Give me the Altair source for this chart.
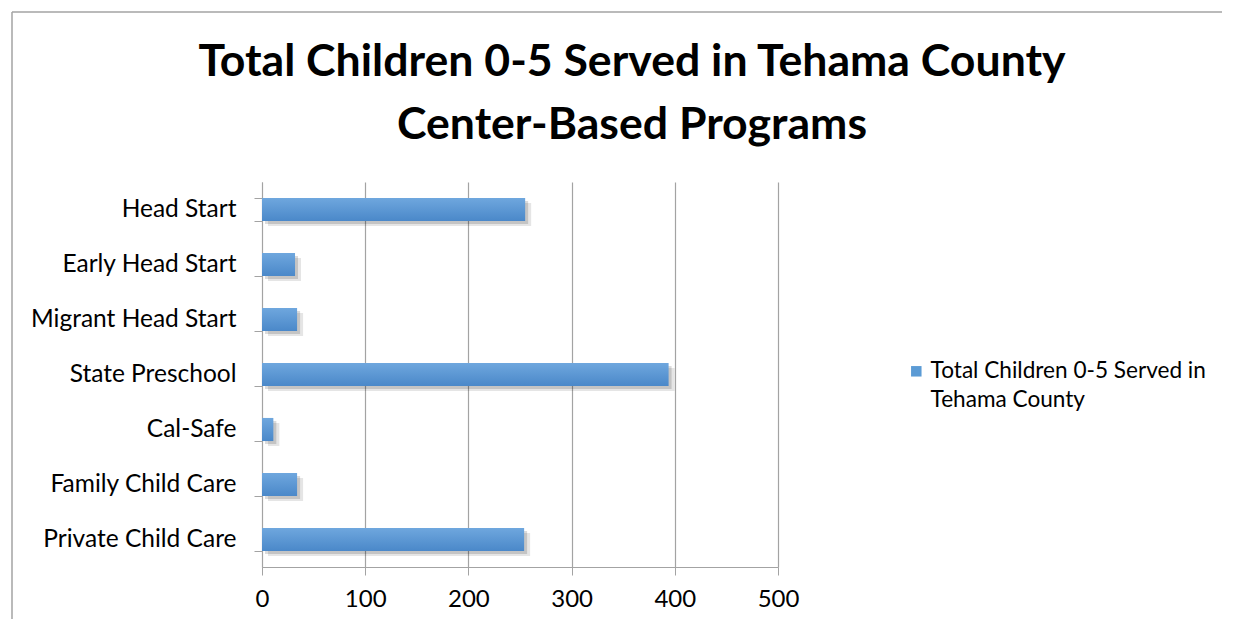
import altair as alt
import pandas as pd

programs = ["Head Start", "Early Head Start", "Migrant Head Start", "State Preschool",
            "Cal-Safe", "Family Child Care", "Private Child Care"]
children = [255, 32, 34, 394, 11, 34, 254]
series_name = "Total Children 0-5 Served in Tehama County"
x_ticks = [0, 100, 200, 300, 400, 500]
title_lines = ["Total Children 0-5 Served in Tehama County", "Center-Based Programs"]

df = pd.DataFrame({"program": programs, "children": children, "series": [series_name] * len(programs)})

FONT = "Lato"
GRAY = "#a3a3a3"

y_enc = alt.Y("program:N", sort=programs,
              scale=alt.Scale(paddingInner=0.58, paddingOuter=0.29),
              axis=alt.Axis(title=None, labelFont=FONT, labelFontSize=24.5, labelColor="black",
                            domainColor=GRAY, tickColor=GRAY, tickSize=8, tickBand="extent",
                            labelPadding=18, labelLimit=400, grid=False))
x_enc = alt.X("children:Q", scale=alt.Scale(domain=[0, 500], nice=False),
              axis=alt.Axis(title=None, values=x_ticks, labelFont=FONT, labelFontSize=24,
                            labelColor="black", domainColor=GRAY, tickColor=GRAY, tickSize=8,
                            labelPadding=12, grid=True, gridColor=GRAY, gridWidth=1.2,
                            labelFlush=False))

base = alt.Chart(df)

shadow1 = base.mark_bar(color="#000000", opacity=0.10, xOffset=6, yOffset=5).encode(x=x_enc, y=y_enc)
shadow2 = base.mark_bar(color="#000000", opacity=0.14, xOffset=3, yOffset=3).encode(x=x_enc, y=y_enc)

grad = alt.Gradient(gradient="linear",
                    stops=[alt.GradientStop(color="#6fa7de", offset=0),
                           alt.GradientStop(color="#4a88c9", offset=1)],
                    x1=0, x2=0, y1=0, y2=1)
bars = base.mark_bar(color=grad).encode(x=x_enc, y=y_enc)

legend_layer = base.mark_bar(opacity=0).encode(
    x=x_enc, y=y_enc,
    color=alt.Color("series:N", scale=alt.Scale(range=["#5b9bd5"]),
                    legend=alt.Legend(title=None, orient="none", legendX=643, legendY=178,
                                      symbolType="square", symbolSize=110, symbolOpacity=1,
                                      symbolStrokeWidth=0, labelFont=FONT, labelFontSize=22.6,
                                      labelColor="black", labelLimit=400, labelOffset=3,
                                      labelBaseline="middle",
                                      labelExpr="['Total Children 0-5 Served in', 'Tehama County']")))

frame_df = pd.DataFrame({"k": [0]})
left_border = alt.Chart(frame_df).mark_rule(color=GRAY, strokeWidth=1.5).encode(
    x=alt.value(-250), y=alt.value(-170), y2=alt.value(437))
top_border = alt.Chart(frame_df).mark_rule(color=GRAY, strokeWidth=1.5).encode(
    x=alt.value(-250), x2=alt.value(960), y=alt.value(-170))

chart = alt.layer(left_border, top_border, shadow1, shadow2, bars, legend_layer).properties(
    width=516, height=385,
    padding={"left": 3, "top": 3, "right": 3, "bottom": 0},
    title=alt.TitleParams(text=title_lines, font=FONT, fontSize=44.6, fontWeight="bold",
                          color="black", anchor="middle", frame="group", dx=112,
                          offset=-137, lineHeight=63),
).configure(background="white", style={"guide-label": {"lineHeight": 29}}).configure_view(stroke=None)

chart.save("out.html", embed_options={"renderer": "svg", "actions": False})
